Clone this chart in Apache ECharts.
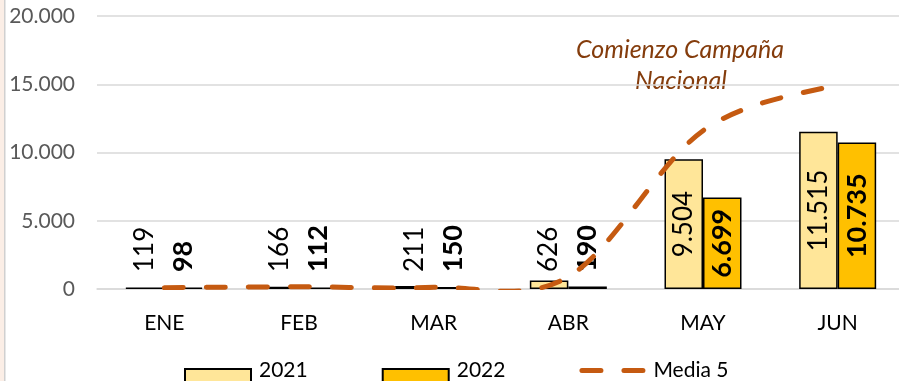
<!DOCTYPE html>
<html>
<head>
<meta charset="utf-8">
<script src="https://cdn.jsdelivr.net/npm/echarts@6/dist/echarts.min.js"></script>
<style>
  html, body { margin: 0; padding: 0; background: #ffffff; }
  #chart { width: 899px; height: 381px; }
</style>
</head>
<body>
<div id="chart"></div>
<script>
// Monthly values
const months = ['ENE', 'FEB', 'MAR', 'ABR', 'MAY', 'JUN'];
const values2021 = [119, 166, 211, 626, 9504, 11515];
const values2022 = [98, 112, 150, 190, 6699, 10735];
const media5 = [100, 160, 120, 900, 11600, 15000];
const yTicks = [0, 5000, 10000, 15000, 20000];

const fmt = v => String(v).replace(/\B(?=(\d{3})+(?!\d))/g, '.');

const FONT = 'Lato, "Liberation Sans", sans-serif';
const LINE_COLOR = '#C55A11';

// Legend swatches: a 66x23 box, the bar swatch sits in its lower part
const RECT_ICON = 'path://M0,0M66,23M0,10h66v13h-66z';
const DASH_ICON = 'path://M0,0M66,23M2.5,9h19a2.5,2.5 0 0 1 0,5h-19a2.5,2.5 0 0 1 0,-5zM44.5,9h19a2.5,2.5 0 0 1 0,5h-19a2.5,2.5 0 0 1 0,-5z';

// Small bars get their label just above the base, tall bars get it centred inside
function barData(values) {
  return values.map(v => ({
    value: v,
    label: v > 3000
      ? { position: 'inside', align: 'center', verticalAlign: 'middle' }
      : { position: 'insideBottom', distance: 17, align: 'left', verticalAlign: 'middle' }
  }));
}

const barLabel = bold => ({
  show: true,
  rotate: 90,
  color: '#000000',
  fontFamily: FONT,
  fontSize: bold ? 27 : 26,
  fontWeight: bold ? 'bold' : 'normal',
  formatter: p => fmt(p.value)
});

// Smoothed curve through the averages (cardinal spline, bezier form)
function smoothPath(pts) {
  const n = pts.length;
  let d = 'M' + pts[0][0] + ',' + pts[0][1];
  for (let i = 0; i < n - 1; i++) {
    const p0 = pts[Math.max(i - 1, 0)];
    const p1 = pts[i];
    const p2 = pts[i + 1];
    const p3 = pts[Math.min(i + 2, n - 1)];
    const c1x = p1[0] + (p2[0] - p0[0]) / 6;
    const c1y = p1[1] + (p2[1] - p0[1]) / 6;
    const c2x = p2[0] - (p3[0] - p1[0]) / 6;
    const c2y = p2[1] - (p3[1] - p1[1]) / 6;
    d += 'C' + c1x + ',' + c1y + ',' + c2x + ',' + c2y + ',' + p2[0] + ',' + p2[1];
  }
  return d;
}

const chart = echarts.init(document.getElementById('chart'), null, { renderer: 'canvas' });

chart.setOption({
  animation: false,
  backgroundColor: '#ffffff',
  grid: { left: 97, top: 16, width: 808, bottom: 92, containLabel: false, outerBoundsMode: 'none' },
  legend: {
    left: 184,
    top: 358,
    padding: 0,
    itemWidth: 66,
    itemHeight: 23,
    itemGap: 74,
    textStyle: { fontFamily: FONT, fontSize: 21, color: '#000000', padding: [0, 0, 0, 3] },
    data: [
      { name: '2021', icon: RECT_ICON },
      { name: '2022', icon: RECT_ICON },
      { name: 'Media 5', icon: DASH_ICON, itemStyle: { color: LINE_COLOR, borderWidth: 0 } }
    ]
  },
  xAxis: {
    type: 'category',
    data: months,
    axisTick: { show: false },
    axisLine: { lineStyle: { color: '#d9d9d9', width: 1.5 } },
    axisLabel: { fontFamily: FONT, fontSize: 21, color: '#000000', margin: 24 }
  },
  yAxis: {
    type: 'value',
    min: yTicks[0],
    max: yTicks[yTicks.length - 1],
    interval: yTicks[1] - yTicks[0],
    axisLine: { show: false },
    axisTick: { show: false },
    splitLine: { lineStyle: { color: '#d9d9d9', width: 1.5 } },
    axisLabel: { fontFamily: FONT, fontSize: 21, color: '#595959', margin: 22, formatter: v => fmt(v) }
  },
  series: [
    {
      name: '2021',
      type: 'bar',
      barWidth: 38.5,
      barGap: '0%',
      data: barData(values2021),
      itemStyle: { color: '#FFE699', borderColor: '#000000', borderWidth: 1.5 },
      label: barLabel(false)
    },
    {
      name: '2022',
      type: 'bar',
      barWidth: 38.5,
      barGap: '0%',
      data: barData(values2022),
      itemStyle: { color: '#FFC000', borderColor: '#000000', borderWidth: 1.5 },
      label: barLabel(true)
    },
    {
      name: 'Media 5',
      type: 'custom',
      z: 5,
      itemStyle: { color: LINE_COLOR },
      data: media5.map((v, i) => [i, v]),
      encode: { x: 0, y: 1 },
      renderItem: (params, api) => {
        if (params.dataIndex !== 0) return null;
        const pts = media5.map((v, i) => api.coord([i, v]));
        const cs = params.coordSys;
        return {
          type: 'path',
          shape: { pathData: smoothPath(pts) },
          style: {
            fill: null,
            stroke: LINE_COLOR,
            lineWidth: 5,
            lineDash: [19, 23],
            lineCap: 'round'
          },
          clipPath: {
            type: 'rect',
            shape: { x: cs.x, y: cs.y - 10, width: cs.width, height: cs.height + 11 }
          }
        };
      }
    }
  ],
  graphic: [
    { type: 'rect', x: 0, y: 0, shape: { width: 4, height: 381 }, style: { fill: '#FBEEE6' }, silent: true },
    { type: 'rect', x: 4, y: 0, shape: { width: 1.5, height: 381 }, style: { fill: '#d0d0d0' }, silent: true },
    {
      type: 'text', x: 680, y: 50, silent: true,
      style: { text: 'Comienzo Campaña', fill: '#843C0C', font: 'italic 25px ' + FONT, align: 'center', verticalAlign: 'middle' }
    },
    {
      type: 'text', x: 681, y: 81, silent: true,
      style: { text: 'Nacional', fill: '#843C0C', font: 'italic 25px ' + FONT, align: 'center', verticalAlign: 'middle' }
    }
  ]
});
</script>
</body>
</html>
